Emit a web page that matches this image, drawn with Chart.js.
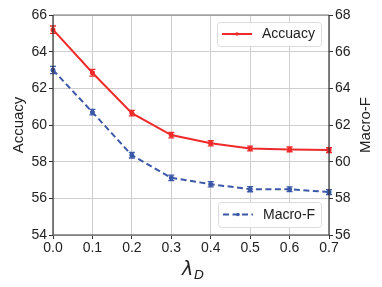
<!DOCTYPE html>
<html>
<head>
<meta charset="utf-8">
<script src="https://cdn.jsdelivr.net/npm/chart.js@4.4.1/dist/chart.umd.min.js"></script>
<style>
  html, body { margin: 0; padding: 0; background: #fff; }
  #wrap { width: 382px; height: 287px; }
</style>
</head>
<body>
<div id="wrap"><canvas id="lambdaChart"></canvas></div>
<script>
// values
var lambdas = [0.0, 0.1, 0.2, 0.3, 0.4, 0.5, 0.6, 0.7];
var accuracy = [65.2, 62.85, 60.65, 59.45, 59.0, 58.72, 58.67, 58.63];
var accuracyErr = [0.2, 0.18, 0.15, 0.15, 0.14, 0.13, 0.13, 0.13];
var macroF = [65.0, 62.7, 60.35, 59.12, 58.77, 58.5, 58.5, 58.34];
var macroFErr = [0.2, 0.15, 0.15, 0.15, 0.14, 0.14, 0.13, 0.13];

var RED = '#ee2a2a';
var BLUE = '#3c58a8';
var FONT = 'Liberation Sans, Arial, sans-serif';

function toPoints(vals) {
    return vals.map(function(v, i) { return {x: lambdas[i], y: v}; });
}

// small error bars drawn through the chart's own scales
var errorBars = {
    id: 'errorBars',
    afterDatasetsDraw: function(chart) {
        var ctx = chart.ctx;
        var xs = chart.scales.x;
        chart.data.datasets.forEach(function(ds) {
            var ys = chart.scales[ds.yAxisID];
            ctx.save();
            ctx.strokeStyle = ds.borderColor;
            ctx.lineWidth = 1.3;
            ds.data.forEach(function(p, i) {
                var px = xs.getPixelForValue(p.x);
                var top = ys.getPixelForValue(p.y + ds.err[i]);
                var bot = ys.getPixelForValue(p.y - ds.err[i]);
                ctx.beginPath();
                ctx.moveTo(px, top); ctx.lineTo(px, bot);
                ctx.moveTo(px - 3, top); ctx.lineTo(px + 3, top);
                ctx.moveTo(px - 3, bot); ctx.lineTo(px + 3, bot);
                ctx.stroke();
            });
            ctx.restore();
        });
    }
};

// frame, two legends and axis titles
var decorations = {
    id: 'decorations',
    afterDraw: function(chart) {
        var ctx = chart.ctx;
        var a = chart.chartArea;
        ctx.save();
        // frame
        ctx.strokeStyle = '#777';
        ctx.lineWidth = 1.2;
        ctx.beginPath();
        ctx.moveTo(a.left, a.top); ctx.lineTo(a.right, a.top);
        ctx.stroke();
        ctx.strokeStyle = '#333';
        ctx.beginPath();
        ctx.moveTo(a.left, a.top); ctx.lineTo(a.left, a.bottom);
        ctx.lineTo(a.right, a.bottom); ctx.lineTo(a.right, a.top);
        ctx.stroke();

        // legends
        function legend(x, y, w, h, ds) {
            ctx.fillStyle = 'rgba(255,255,255,0.9)';
            ctx.strokeStyle = '#dcdcdc';
            ctx.lineWidth = 1;
            ctx.beginPath();
            ctx.roundRect(x + 0.5, y + 0.5, w, h, 3);
            ctx.fill(); ctx.stroke();
            var cy = y + h / 2;
            ctx.strokeStyle = ds.borderColor;
            ctx.lineWidth = 2;
            ctx.setLineDash(ds.borderDash || []);
            ctx.beginPath();
            ctx.moveTo(x + 5, cy); ctx.lineTo(x + 35, cy);
            ctx.stroke();
            ctx.setLineDash([]);
            ctx.fillStyle = ds.borderColor;
            ctx.beginPath();
            ctx.arc(x + 20, cy, 1.8, 0, Math.PI * 2);
            ctx.fill();
            ctx.fillStyle = '#222';
            ctx.font = '14px ' + FONT;
            ctx.textBaseline = 'middle';
            ctx.fillText(ds.label, x + 45, cy + 0.5);
        }
        var d = chart.data.datasets;
        legend(217, 22, 104, 24, d[0]);
        legend(218, 202, 103, 25, d[1]);

        // axis titles
        ctx.fillStyle = '#222';
        ctx.font = '15px ' + FONT;
        ctx.textAlign = 'center';
        ctx.textBaseline = 'middle';
        var my = (a.top + a.bottom) / 2;
        ctx.save();
        ctx.translate(19, my);
        ctx.rotate(-Math.PI / 2);
        ctx.fillText('Accuacy', 0, 0);
        ctx.restore();
        ctx.save();
        ctx.translate(366, my);
        ctx.rotate(-Math.PI / 2);
        ctx.fillText('Macro-F', 0, 0);
        ctx.restore();

        var mx = (a.left + a.right) / 2;
        ctx.textAlign = 'left';
        ctx.textBaseline = 'alphabetic';
        ctx.font = 'italic 19px DejaVu Sans, sans-serif';
        ctx.fillText('\u03bb', mx - 9, 275);
        ctx.font = 'italic 13px DejaVu Sans, sans-serif';
        ctx.fillText('D', mx + 3, 279);
        ctx.restore();
    }
};

var chart = new Chart(document.getElementById('lambdaChart'), {
    type: 'line',
    data: {
        datasets: [{
            label: 'Accuacy',
            data: toPoints(accuracy),
            err: accuracyErr,
            yAxisID: 'y',
            borderColor: RED,
            backgroundColor: RED,
            borderWidth: 2,
            pointRadius: 1.5,
            pointHoverRadius: 1.5,
            tension: 0
        }, {
            label: 'Macro-F',
            data: toPoints(macroF),
            err: macroFErr,
            yAxisID: 'y1',
            borderColor: BLUE,
            backgroundColor: BLUE,
            borderWidth: 2,
            borderDash: [6, 3.5],
            pointRadius: 1.5,
            pointHoverRadius: 1.5,
            tension: 0
        }]
    },
    options: {
        responsive: true,
        maintainAspectRatio: false,
        animation: false,
        clip: false,
        layout: {padding: {top: 15, left: 0, right: 0, bottom: 0}},
        plugins: {legend: {display: false}, tooltip: {enabled: false}},
        scales: {
            x: {
                type: 'linear',
                min: 0, max: 0.7,
                afterFit: function(s) { s.height = 52; },
                afterBuildTicks: function(s) {
                    s.ticks = lambdas.map(function(v) { return {value: v}; });
                },
                ticks: {
                    color: '#222',
                    font: {family: FONT, size: 14},
                    padding: 1,
                    maxRotation: 0,
                    callback: function(v) { return Number(v).toFixed(1); }
                },
                grid: {color: '#cfcfcf', lineWidth: 1, tickLength: 4, tickColor: '#333'},
                border: {display: false}
            },
            y: {
                position: 'left',
                min: 54, max: 66,
                afterFit: function(s) { s.width = 53; },
                ticks: {stepSize: 2, color: '#222', font: {family: FONT, size: 14}, padding: 2},
                grid: {color: '#cfcfcf', lineWidth: 1, tickLength: 4, tickColor: '#333'},
                border: {display: false}
            },
            y1: {
                position: 'right',
                min: 56, max: 68,
                afterFit: function(s) { s.width = 53; },
                ticks: {stepSize: 2, color: '#222', font: {family: FONT, size: 14}, padding: 2},
                grid: {drawOnChartArea: false, tickLength: 4, tickColor: '#333'},
                border: {display: false}
            }
        }
    },
    plugins: [errorBars, decorations]
});
</script>
</body>
</html>
